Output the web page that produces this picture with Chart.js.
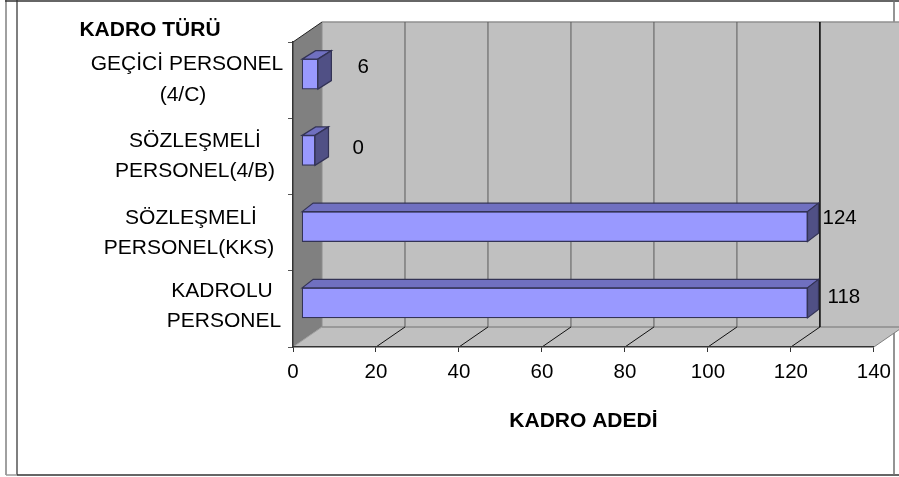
<!DOCTYPE html>
<html>
<head>
<meta charset="utf-8">
<script src="https://cdn.jsdelivr.net/npm/chart.js@4/dist/chart.umd.min.js"></script>
<style>
    html, body { margin: 0; padding: 0; background: #fff; overflow: hidden; }
    canvas { display: block; }
</style>
</head>
<body>
<canvas id="kadro" width="899" height="477"></canvas>
<script>
// top to bottom, as on the picture
const categories = [
    ['GEÇİCİ PERSONEL', '(4/C)'],
    ['SÖZLEŞMELİ', 'PERSONEL(4/B)'],
    ['SÖZLEŞMELİ', 'PERSONEL(KKS)'],
    ['KADROLU', 'PERSONEL']
];
// printed next to the bars
const labelValues = [6, 0, 124, 118];
// where the bars really stop on the axis, they dont all agree with the printed number
const barStart = 2.2;
const barEnds = [6, 5.3, 124, 124];
const xTicks = [0, 20, 40, 60, 80, 100, 120, 140];
const xTitle = 'KADRO ADEDİ';
const yTitle = 'KADRO TÜRÜ';

const FONT = '"Liberation Sans", Arial, sans-serif';
const FONT_SIZE = 20.5;
const LABEL_SIZE = 21;
const WALL_DX = 29, WALL_DY = 20;
const BAR_SHIFT = -6;

// x centre of each category label, and nudges for the value labels
const catCentres = [[187, 183], [195, 195], [191, 189], [222, 224]];
const catLineY = [[-16, 15], [-15, 15], [-14, 16], [-18, 12]];
const valueNudge = [[26, -6.5], [24, -2.5], [4, -8], [9, -6]];

function poly(ctx, pts, fill, stroke, lw) {
    ctx.beginPath();
    pts.forEach((p, i) => i ? ctx.lineTo(p[0], p[1]) : ctx.moveTo(p[0], p[1]));
    ctx.closePath();
    if (fill) { ctx.fillStyle = fill; ctx.fill(); }
    if (stroke) { ctx.strokeStyle = stroke; ctx.lineWidth = lw || 1; ctx.stroke(); }
}

function line(ctx, x1, y1, x2, y2, color, lw) {
    ctx.beginPath();
    ctx.moveTo(x1, y1);
    ctx.lineTo(x2, y2);
    ctx.strokeStyle = color;
    ctx.lineWidth = lw || 1;
    ctx.stroke();
}

const room = {
    id: 'room',
    beforeDraw(chart) {
        const { ctx, chartArea: a, scales } = chart;
        const W = chart.width;
        ctx.save();

        // outer frames
        line(ctx, 6, 0, 6, 475, '#808080', 1.5);
        line(ctx, 17, 0, 17, 475, '#555', 1.5);
        line(ctx, 5, 1, W, 1, '#333', 1.5);
        line(ctx, 6, 475, 17, 475, '#999', 1.5);
        line(ctx, 17, 475, W, 475, '#333', 1.5);
        line(ctx, 894, 0, 894, 475, '#707070', 1.5);

        // back wall, floor, side wall
        const backL = a.left + WALL_DX, backT = a.top - WALL_DY, backB = a.bottom - WALL_DY;
        poly(ctx, [[backL, backT], [W, backT], [W, backB], [backL, backB]], '#c0c0c0');
        const endY = a.bottom - (W - a.right) * WALL_DY / WALL_DX;
        poly(ctx, [[a.left, a.bottom], [backL, backB], [W, backB], [W, endY], [a.right, a.bottom]], '#c0c0c0');
        poly(ctx, [[a.left, a.top], [backL, backT], [backL, backB], [a.left, a.bottom]], '#808080');

        line(ctx, backL, backT, W, backT, '#909090', 1.5);
        line(ctx, backL, backB, W, backB, '#8c8c8c', 1.5);
        line(ctx, backL, backT, backL, backB, '#8c8c8c', 1);
        line(ctx, a.left, a.bottom, backL, backB, '#a0a0a0', 1);
        line(ctx, a.right, a.bottom, W, endY, '#808080', 1);
        line(ctx, a.left, a.top, backL, backT, '#222', 1);

        // wall grid and the diagonals on the floor
        xTicks.forEach((t, i) => {
            if (t === 0 || t === 140) return;
            const x = scales.x.getPixelForValue(t);
            line(ctx, x + WALL_DX, backT, x + WALL_DX, backB, t === 120 ? '#000' : '#5a5a5a', t === 120 ? 1.5 : 1);
            line(ctx, x, a.bottom, x + WALL_DX, backB, '#111', 1);
        });
        ctx.restore();
    },
    beforeDatasetsDraw(chart) {
        chart.ctx.save();
        chart.ctx.translate(0, BAR_SHIFT);
    },
    afterDatasetsDraw(chart) {
        const { ctx } = chart;
        const bars = chart.getDatasetMeta(0).data;
        bars.forEach(bar => {
            const r = bar.x, l = bar.base, t = bar.y - bar.height / 2, b = bar.y + bar.height / 2;
            const dx = (r - l) < 50 ? 13.5 : 11, dy = 8.5;
            poly(ctx, [[l, t], [l + dx, t - dy], [r + dx, t - dy], [r, t]], '#7070c0', '#333355', 1.2);
            poly(ctx, [[r, t], [r + dx, t - dy], [r + dx, b - dy], [r, b]], '#505085', '#333355', 1.2);
        });
        ctx.restore();

        // value labels
        ctx.save();
        ctx.font = FONT_SIZE + 'px ' + FONT;
        ctx.fillStyle = '#000';
        ctx.textAlign = 'left';
        ctx.textBaseline = 'middle';
        bars.forEach((bar, i) => {
            const dx = (bar.x - bar.base) < 50 ? 13.5 : 11;
            ctx.fillText(String(labelValues[i]), bar.x + dx + valueNudge[i][0], bar.y + BAR_SHIFT + valueNudge[i][1]);
        });

        // category labels, each line centred on its own block
        ctx.font = LABEL_SIZE + 'px ' + FONT;
        ctx.textAlign = 'center';
        categories.forEach((lines, i) => {
            const y = chart.scales.y.getPixelForValue(i);
            lines.forEach((txt, j) => {
                ctx.fillText(txt, catCentres[i][j], y + catLineY[i][j]);
            });
        });

        ctx.font = 'bold ' + LABEL_SIZE + 'px ' + FONT;
        ctx.fillText(yTitle, 150, 30);
        ctx.restore();
    }
};

const ctx = document.getElementById('kadro');
const kadroChart = new Chart(ctx, {
    type: 'bar',
    data: {
        labels: categories,
        datasets: [
            {
                label: xTitle,
                data: barEnds.map(v => [barStart, v]),
                backgroundColor: '#9999ff',
                borderColor: '#333355',
                borderWidth: 1.2,
                borderSkipped: false,
                barThickness: 30
            }
        ]
    },
    plugins: [room],
    options: {
        indexAxis: 'y',
        responsive: false,
        animation: false,
        layout: { padding: { left: 0, top: 42, right: 25, bottom: 0 } },
        plugins: {
            legend: { display: false },
            title: { display: false },
            tooltip: { enabled: false }
        },
        scales: {
            x: {
                type: 'linear',
                min: 0,
                max: 140,
                afterBuildTicks(scale) { scale.ticks = xTicks.map(v => ({ value: v })); },
                afterFit(scale) { scale.height = 130; },
                border: { color: '#333', width: 1.5 },
                grid: { drawOnChartArea: false, tickLength: 5, color: '#333' },
                ticks: {
                    color: '#000',
                    padding: 8,
                    maxRotation: 0,
                    font: { family: FONT, size: FONT_SIZE }
                },
                title: {
                    display: true,
                    text: xTitle,
                    color: '#000',
                    font: { family: FONT, size: LABEL_SIZE, weight: 'bold' },
                    padding: { top: 0, bottom: 43 }
                }
            },
            y: {
                afterFit(scale) { scale.width = 293; },
                border: { color: '#333', width: 1.5 },
                grid: { drawOnChartArea: false, tickLength: 5, color: '#555', offset: true },
                ticks: { display: false }
            }
        }
    }
});
</script>
</body>
</html>
